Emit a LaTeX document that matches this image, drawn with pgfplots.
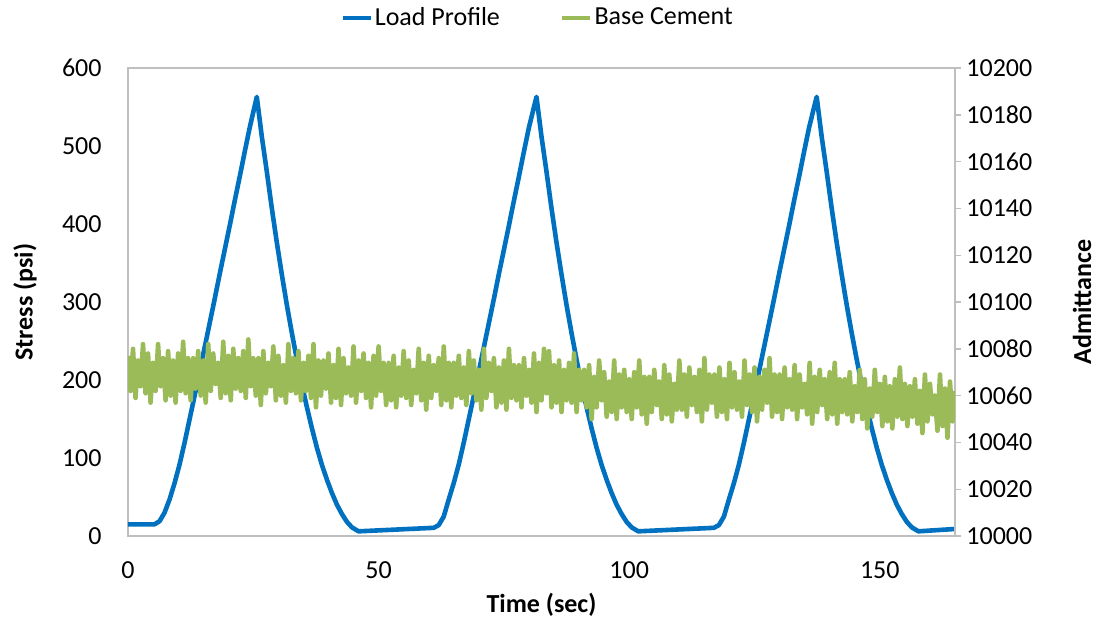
\documentclass[border=0pt]{standalone}
\usepackage{pgfplots}
\pgfplotsset{compat=1.18}
\usepackage{fontspec}
\setmainfont{Carlito}
\definecolor{lpblue}{RGB}{0,112,192}
\definecolor{bcgreen}{RGB}{155,187,89}
\definecolor{axgray}{RGB}{191,191,191}
\begin{document}
\begin{tikzpicture}
\useasboundingbox (-64pt,-43.5pt) rectangle (485.5pt,268pt);
\pgfplotsset{
  every axis/.append style={
    scale only axis, width=413.5pt, height=234pt,
    xmin=0, xmax=165,
    font=\fontsize{13}{15.6}\selectfont,
    /pgf/number format/assume math mode=true,
    /pgf/number format/1000 sep={},
    axis line style={axgray, line width=0.7pt},
    tick style={axgray, line width=0.7pt},
  }
}
\begin{axis}[
  ymin=0, ymax=600,
  ytick={0,100,200,300,400,500,600},
  xtick={0,50,100,150},
  xtick pos=bottom, ytick pos=left,
  major tick length=0pt,
  yticklabel style={inner sep=0pt, xshift=-13pt},
  xticklabel style={inner sep=0pt, yshift=-12.7pt},
  every axis x label/.style={at={(axis description cs:0.5,-0.1474)}, anchor=center, font=\fontsize{13}{15.6}\selectfont\bfseries},
  every axis y label/.style={at={(axis description cs:-0.1245,0.5)}, rotate=90, anchor=center, font=\fontsize{13}{15.6}\selectfont\bfseries},
  xlabel={Time (sec)},
  ylabel={Stress (psi)},
]
\addplot[lpblue, line width=2.3pt, line join=round] coordinates {
(0,15)(5.3,15)(6.3,19)(7.3,30)(8.3,47)(9.3,68)(10.3,92)(11.3,120)(12.3,150)(13.3,180)(14.3,211)(15.3,242)(16.3,273)(17.3,304)(18.3,336)(19.3,367)(20.3,398)(21.3,430)(22.3,461)(23.3,493)(24.3,524)(25.7,563)
(26.7,512)(27.7,467)(28.7,420)(29.7,376)(30.7,335)(31.7,296)(32.7,260)(33.7,226)(34.7,194)(35.7,165)(36.7,138)(37.7,113)(38.7,91)(39.7,72)(40.7,55)(41.7,40)(42.7,28)(43.7,18)(44.7,11)(46.0,6)
(61.0,10.5)
(62,14)(63,25)(64,47)(65,68)(66,92)(67,120)(68,150)(69,180)(70,211)(71,242)(72,273)(73,304)(74,336)(75,367)(76,398)(77,430)(78,461)(79,493)(80,524)(81.5,563)
(82.5,512)(83.5,467)(84.5,420)(85.5,376)(86.5,335)(87.5,296)(88.5,260)(89.5,226)(90.5,194)(91.5,165)(92.5,138)(93.5,113)(94.5,91)(95.5,72)(96.5,55)(97.5,40)(98.5,28)(99.5,18)(100.5,11)(101.8,6)
(116.9,10.5)
(117.9,14)(118.9,25)(119.9,47)(120.9,68)(121.9,92)(122.9,120)(123.9,150)(124.9,180)(125.9,211)(126.9,242)(127.9,273)(128.9,304)(129.9,336)(130.9,367)(131.9,398)(132.9,430)(133.9,461)(134.9,493)(135.9,524)(137.4,563)
(138.4,512)(139.4,467)(140.4,420)(141.4,376)(142.4,335)(143.4,296)(144.4,260)(145.4,226)(146.4,194)(147.4,165)(148.4,138)(149.4,113)(150.4,91)(151.4,72)(152.4,55)(153.4,40)(154.4,28)(155.4,18)(156.4,11)(157.7,6)
(165,9)
};
\end{axis}
\begin{axis}[
  ymin=10000, ymax=10200,
  ytick={10000,10020,10040,10060,10080,10100,10120,10140,10160,10180,10200},
  scaled y ticks=false,
  yticklabel={\pgfmathprintnumber[fixed,precision=0,1000 sep={}]{\tick}},
  hide x axis,
  axis y line*=right,
  tick align=outside,
  major tick length=3pt,
  yticklabel style={inner sep=0pt, xshift=2.5pt},
  every axis y label/.style={at={(axis description cs:1.1536,0.5)}, rotate=90, anchor=center, font=\fontsize{13}{15.6}\selectfont\bfseries},
  ylabel={Admittance},
  legend columns=2,
  legend style={at={(axis description cs:0.5,1)}, anchor=center, xshift=-2pt, yshift=25pt,
    draw=none, fill=none, inner sep=0pt,
    font=\fontsize{13}{15.6}\selectfont,
    nodes={inner sep=1pt},
    /tikz/every even column/.append style={column sep=29pt}},
  legend image code/.code={\draw[#1, line width=2.3pt] (0pt,0pt) -- (14pt,0pt);},
]
\addlegendimage{lpblue}
\addlegendentry{Load Profile}
\addplot[bcgreen, line width=2.3pt, line join=round] table {
0 10077
0.5 10062
1 10080
1.5 10059
2 10075
2.5 10064
3 10082
3.5 10061
4 10078
4.5 10057
5 10074
5.5 10062
6 10082
6.5 10064
7 10076
7.5 10058
8 10079
8.5 10060
9 10075
9.5 10057
10 10078
10.5 10062
11 10083
11.5 10061
12 10076
12.5 10058
13 10076
13.5 10063
14 10079
14.5 10060
15 10075
15.5 10057
16 10082
16.5 10062
17 10078
17.5 10065
18 10074
18.5 10059
19 10083
19.5 10061
20 10077
20.5 10058
21 10080
21.5 10063
22 10076
22.5 10062
23 10079
23.5 10059
24 10084
24.5 10064
25 10076
25.5 10060
26 10076
26.5 10056
27 10079
27.5 10061
28 10074
28.5 10064
29 10081
29.5 10058
30 10077
30.5 10060
31 10073
31.5 10057
32 10082
32.5 10062
33 10076
33.5 10061
34 10079
34.5 10058
35 10074
35.5 10062
36 10077
36.5 10059
37 10082
37.5 10055
38 10075
38.5 10060
39 10075
39.5 10063
40 10078
40.5 10057
41 10073
41.5 10059
42 10080
42.5 10056
43 10076
43.5 10061
44 10072
44.5 10060
45 10081
45.5 10057
46 10075
46.5 10062
47 10078
47.5 10059
48 10074
48.5 10055
49 10077
49.5 10060
50 10081
50.5 10062
51 10074
51.5 10056
52 10074
52.5 10058
53 10077
53.5 10055
54 10072
54.5 10060
55 10079
55.5 10059
56 10075
56.5 10056
57 10071
57.5 10061
58 10080
58.5 10058
59 10074
59.5 10054
60 10077
60.5 10059
61 10073
61.5 10062
62 10076
62.5 10056
63 10081
63.5 10058
64 10074
64.5 10055
65 10074
65.5 10060
66 10077
66.5 10059
67 10072
67.5 10056
68 10079
68.5 10061
69 10075
69.5 10058
70 10071
70.5 10054
71 10080
71.5 10059
72 10074
72.5 10062
73 10076
73.5 10055
74 10072
74.5 10057
75 10075
75.5 10054
76 10080
76.5 10059
77 10073
77.5 10058
78 10073
78.5 10055
79 10076
79.5 10060
80 10071
80.5 10057
81 10078
81.5 10053
82 10074
82.5 10058
83 10080
83.5 10061
84 10079
84.5 10055
85 10073
85.5 10057
86 10075
86.5 10053
87 10071
87.5 10058
88 10074
88.5 10057
89 10078
89.5 10053
90 10071
90.5 10058
91 10071
91.5 10055
92 10073
92.5 10050
93 10068
93.5 10055
94 10075
94.5 10058
95 10070
95.5 10051
96 10066
96.5 10053
97 10075
97.5 10050
98 10069
98.5 10055
99 10071
99.5 10053
100 10067
100.5 10050
101 10070
101.5 10055
102 10075
102.5 10052
103 10068
103.5 10048
104 10068
104.5 10053
105 10071
105.5 10056
106 10066
106.5 10050
107 10073
107.5 10052
108 10069
108.5 10049
109 10065
109.5 10054
110 10075
110.5 10054
111 10069
111.5 10051
112 10072
112.5 10056
113 10068
113.5 10053
114 10071
114.5 10049
115 10076
115.5 10054
116 10069
116.5 10057
117 10069
117.5 10051
118 10072
118.5 10053
119 10067
119.5 10050
120 10074
120.5 10055
121 10070
121.5 10054
122 10066
122.5 10051
123 10075
123.5 10056
124 10069
124.5 10053
125 10072
125.5 10049
126 10068
126.5 10054
127 10071
127.5 10057
128 10076
128.5 10051
129 10069
129.5 10053
130 10069
130.5 10050
131 10072
131.5 10055
132 10067
132.5 10054
133 10073
133.5 10050
134 10069
134.5 10055
135 10065
135.5 10052
136 10074
136.5 10048
137 10068
137.5 10053
138 10071
138.5 10056
139 10067
139.5 10050
140 10070
140.5 10052
141 10074
141.5 10048
142 10067
142.5 10053
143 10067
143.5 10052
144 10070
144.5 10049
145 10064
145.5 10053
146 10071
146.5 10050
147 10067
147.5 10046
148 10063
148.5 10051
149 10071
149.5 10053
150 10065
150.5 10047
151 10068
151.5 10049
152 10064
152.5 10046
153 10067
153.5 10051
154 10072
154.5 10050
155 10065
155.5 10047
156 10064
156.5 10051
157 10067
157.5 10048
158 10062
158.5 10044
159 10069
159.5 10049
160 10065
160.5 10052
161 10060
161.5 10045
162 10069
162.5 10047
163 10063
163.5 10042
164 10066
164.5 10049
165 10062
};
\addlegendentry{Base Cement}
\end{axis}
\end{tikzpicture}
\end{document}
